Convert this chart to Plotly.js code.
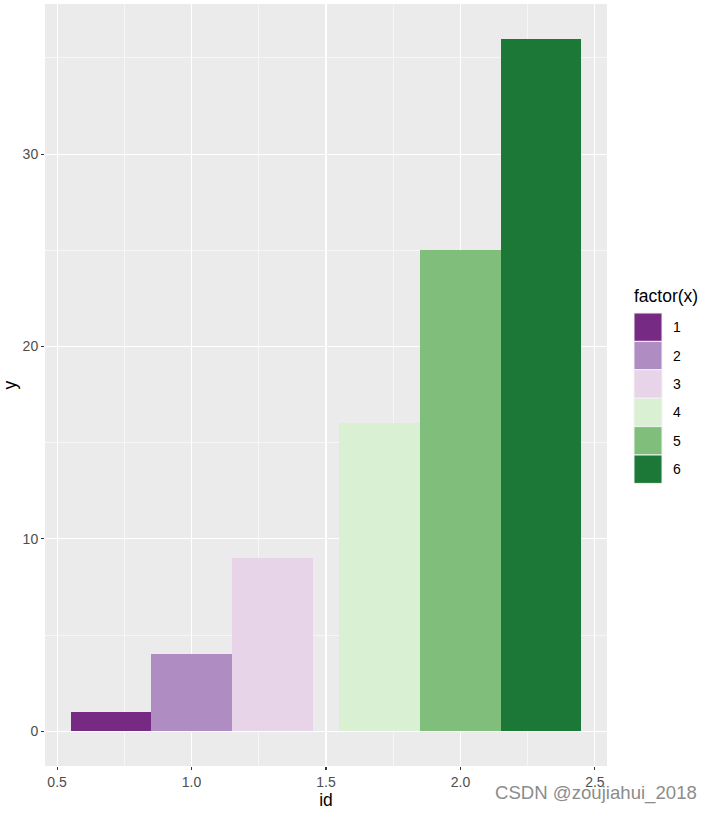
<!DOCTYPE html>
<html>
<head>
<meta charset="utf-8">
<script src="https://cdn.plot.ly/plotly-3.0.1.min.js"></script>
<style>
  html, body { margin: 0; padding: 0; background: #ffffff; }
  #chart { width: 714px; height: 813px; }
</style>
</head>
<body>
<div id="chart"></div>
<script>
// data
const ids = [1, 1, 1, 2, 2, 2];
const factors = ['1', '2', '3', '4', '5', '6'];
const yValues = [1, 4, 9, 16, 25, 36];
const fillColors = ['#762A83', '#AF8DC3', '#E7D4E8', '#D9F0D3', '#7FBF7B', '#1B7837'];

const xTicks = [0.5, 1.0, 1.5, 2.0, 2.5];
const xTickText = ['0.5', '1.0', '1.5', '2.0', '2.5'];
const yTicks = [0, 10, 20, 30];

// geometry of the page (pixels)
const W = 714, H = 813;
const margin = { l: 45, r: 107, t: 4, b: 47 };
const plotW = W - margin.l - margin.r;
const plotH = H - margin.t - margin.b;
const px2x = px => (px - margin.l) / plotW;
const px2y = py => (H - margin.b - py) / plotH;

const FONT = 'Liberation Sans, Arial, sans-serif';

// dodge: three bars per id, each 0.3 wide
const dodgeWidth = 0.9;
const barWidth = dodgeWidth / 3;

const data = factors.map((f, i) => {
    const slot = ids.slice(0, i).filter(v => v === ids[i]).length;
    return {
        type: 'bar',
        x: [ids[i] + (slot - 1) * barWidth],
        y: [yValues[i]],
        width: barWidth,
        name: f,
        marker: { color: fillColors[i], line: { width: 0 } },
        showlegend: false,
        hoverinfo: 'x+y'
    };
});

// legend drawn by hand so the keys look like ggplot's
const shapes = [];
const annotations = [];
const keyTop = 313, keySize = 28.4, keyLeft = 634, keyRight = 662;
factors.forEach((f, i) => {
    const top = keyTop + i * keySize;
    shapes.push({
        type: 'rect', xref: 'paper', yref: 'paper',
        x0: px2x(keyLeft), x1: px2x(keyRight),
        y0: px2y(top + keySize), y1: px2y(top),
        fillcolor: fillColors[i],
        line: { color: '#F2F2F2', width: 1 }
    });
    annotations.push({
        xref: 'paper', yref: 'paper',
        x: px2x(671), y: px2y(top + keySize / 2),
        xanchor: 'left', yanchor: 'middle',
        text: f, showarrow: false,
        font: { family: FONT, size: 14, color: '#000000' }
    });
});
annotations.push({
    xref: 'paper', yref: 'paper',
    x: px2x(632), y: px2y(296),
    xanchor: 'left', yanchor: 'middle',
    text: 'factor(x)', showarrow: false,
    font: { family: FONT, size: 17.5, color: '#000000' }
});
annotations.push({
    xref: 'paper', yref: 'paper',
    x: px2x(699), y: px2y(793),
    xanchor: 'right', yanchor: 'middle',
    text: 'CSDN @zoujiahui_2018', showarrow: false,
    font: { family: FONT, size: 18.6, color: '#8C8C8C' }
});

const layout = {
    width: W,
    height: H,
    margin: margin,
    paper_bgcolor: '#ffffff',
    plot_bgcolor: '#EBEBEB',
    barmode: 'overlay',
    bargap: 0,
    font: { family: FONT, size: 14, color: '#4D4D4D' },
    showlegend: false,
    xaxis: {
        range: [0.455, 2.545],
        tickvals: xTicks,
        ticktext: xTickText,
        ticks: 'outside', ticklen: 3, tickwidth: 1.1, tickcolor: '#333333',
        showgrid: true, gridcolor: '#ffffff', gridwidth: 1.1,
        minor: { dtick: 0.5, tick0: 0.75, showgrid: true, gridcolor: '#ffffff', gridwidth: 0.55, ticks: '' },
        zeroline: false, showline: false,
        tickfont: { size: 14, color: '#4D4D4D' },
        title: { text: 'id', font: { size: 17.5, color: '#000000' }, standoff: 3 }
    },
    yaxis: {
        range: [-1.8, 37.8],
        tickvals: yTicks,
        ticks: 'outside', ticklen: 3, tickwidth: 1.1, tickcolor: '#333333',
        showgrid: true, gridcolor: '#ffffff', gridwidth: 1.1,
        minor: { dtick: 10, tick0: 5, showgrid: true, gridcolor: '#ffffff', gridwidth: 0.55, ticks: '' },
        zeroline: false, showline: false,
        tickfont: { size: 14, color: '#4D4D4D' },
        title: { text: 'y', font: { size: 17.5, color: '#000000' }, standoff: 5 }
    },
    shapes: shapes,
    annotations: annotations
};

Plotly.newPlot('chart', data, layout, { displayModeBar: false, staticPlot: true });
</script>
</body>
</html>
